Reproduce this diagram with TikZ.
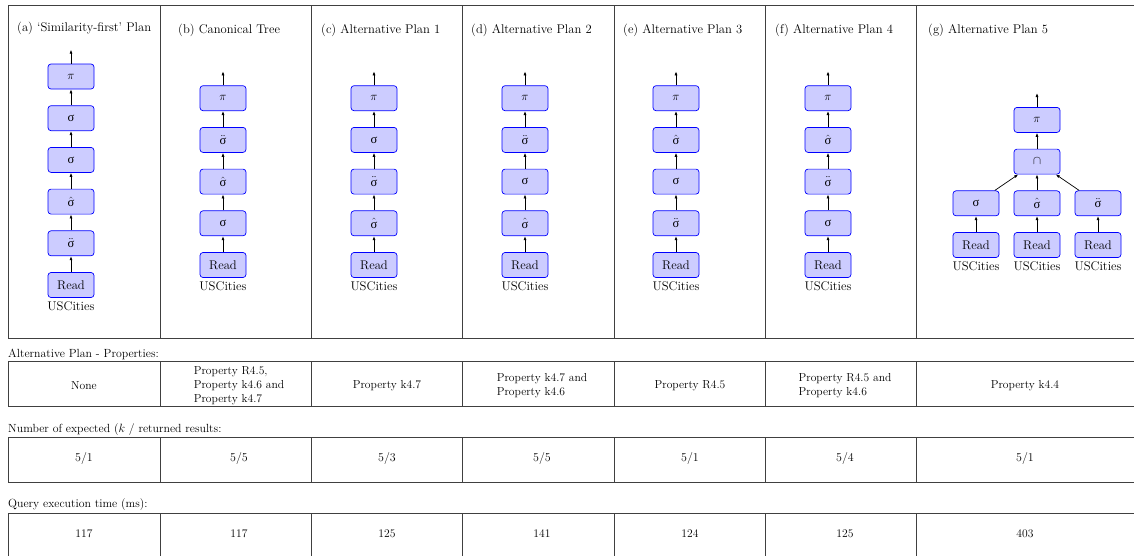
\documentclass[tikz,border=0pt]{standalone}
\usepackage{fontspec}
\newfontfamily\grk{Liberation Serif}
\usetikzlibrary{positioning,arrows.meta}

\newcommand{\opsig}{{\grk σ}}
\newcommand{\opsighat}{$\hat{\mbox{\grk σ}}$}
\newcommand{\opsigdd}{$\ddot{\mbox{\grk σ}}$}

\tikzset{
  op/.style={draw=blue, fill=blue!20, rounded corners=3pt, line width=0.7pt,
    minimum width=46pt, minimum height=25pt, inner sep=0pt},
  src/.style={inner sep=0pt},
  flow/.style={-{Latex[length=4pt,width=3pt]}, line width=0.7pt},
  frame/.style={draw=black!75, line width=0.8pt},
  title/.style={anchor=base west, inner sep=0pt},
  rowlabel/.style={title, font=\fontsize{11.8}{14}\selectfont},
  cell/.style={inner sep=0pt, align=left, font=\fontsize{11.6}{14}\selectfont}
}

\begin{document}
\begin{tikzpicture}[x=1pt,y=-1pt,node distance=16pt,font=\fontsize{12.6}{15}\selectfont]
\useasboundingbox (0,0) rectangle (1134,555);

% plan panels
\draw[frame] (1136,5) -- (8,5) -- (8,338) -- (1136,338);
\foreach \x in {160,311,462,614,765,916}
  \draw[frame] (\x,5) -- (\x,338);

\node[title] (ta) at (17,31) {(a) `Similarity-first' Plan};
\node[title] (tb) at (178,33) {(b) Canonical Tree};
\node[title] (tc) at (321,33) {(c) Alternative Plan 1};
\node[title] (td) at (471,33) {(d) Alternative Plan 2};
\node[title] (te) at (623,33) {(e) Alternative Plan 3};
\node[title] (tf) at (775,33) {(f) Alternative Plan 4};
\node[title] (tg) at (928,33) {(g) Alternative Plan 5};

% linear plans, bottom to top
\foreach \p/\x/\y/\n/\ops in {
    a/71/285/5/{\opsigdd,\opsighat,\opsig,\opsig,$\pi$},
    b/223/265/4/{\opsig,\opsighat,\opsigdd,$\pi$},
    c/374/265/4/{\opsighat,\opsigdd,\opsig,$\pi$},
    d/525/265/4/{\opsighat,\opsig,\opsigdd,$\pi$},
    e/676/265/4/{\opsigdd,\opsig,\opsighat,$\pi$},
    f/828/265/4/{\opsig,\opsigdd,\opsighat,$\pi$}}{
  \node[op] (\p0) at (\x,\y) {Read};
  \node[src, below=4pt of \p0] (\p src) {USCities};
  \foreach \o [count=\i, remember=\i as \j (initially 0)] in \ops {
    \node[op, above=of \p\j] (\p\i) {\o};
    \draw[flow] (\p\j) -- (\p\i);
  }
  \coordinate[above=14pt of \p\n] (\p top);
  \draw[flow] (\p\n) -- (\p top);
}

% plan 5
\foreach \c/\x/\o in {l/976/\opsig, m/1037/\opsighat, r/1098/\opsigdd}{
  \node[op] (g0\c) at (\x,245) {Read};
  \node[src, below=4pt of g0\c] (gsrc\c) {USCities};
  \node[op, above=of g0\c] (g1\c) {\o};
  \draw[flow] (g0\c) -- (g1\c);
}
\node[op, above=of g1m] (gcap) {$\cap$};
\node[op, above=of gcap] (gpi) {$\pi$};
\coordinate[above=14pt of gpi] (gtop);
\draw[flow] (g1l) -- (gcap);
\draw[flow] (g1m) -- (gcap);
\draw[flow] (g1r) -- (gcap);
\draw[flow] (gcap) -- (gpi);
\draw[flow] (gpi) -- (gtop);

% result table
\node[rowlabel] (lprop) at (8,357) {Alternative Plan - Properties:};
\node[rowlabel] (lres) at (8,432) {Number of expected ($k$ / returned results:};
\node[rowlabel] (ltime) at (8,507) {Query execution time (ms):};

\foreach \t/\b in {361/406, 437/482, 513/560}{
  \draw[frame] (1136,\t) -- (8,\t) -- (8,\b) -- (1136,\b);
  \foreach \x in {160,311,462,614,765,916}
    \draw[frame] (\x,\t) -- (\x,\b);
}

\foreach \c/\x/\pr/\res/\ms in {
    a/84/{None}/{$5/1$}/117,
    b/239/{Property R4.5,\\Property k4.6 and\\Property k4.7}/{$5/5$}/117,
    c/387/{Property k4.7}/{$5/3$}/125,
    d/542/{Property k4.7 and\\Property k4.6}/{$5/5$}/141,
    e/690/{Property R4.5}/{$5/1$}/124,
    f/845/{Property R4.5 and\\Property k4.6}/{$5/4$}/125,
    g/1025/{Property k4.4}/{$5/1$}/403}{
  \node[cell] (p\c) at (\x,386) {\pr};
  \node[cell] (r\c) at (\x,458) {\res};
  \node[cell] (t\c) at (\x,534) {\ms};
}
\end{tikzpicture}
\end{document}
